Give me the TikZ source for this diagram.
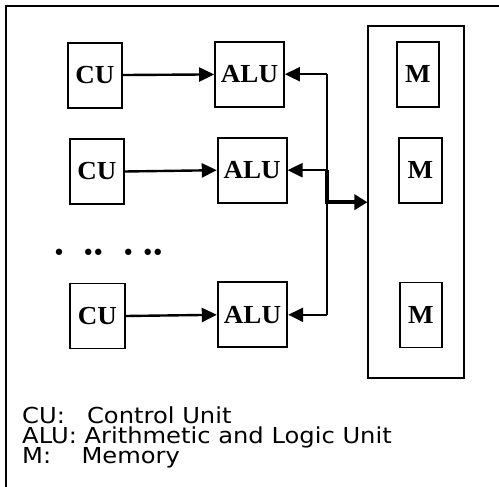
\documentclass[tikz,border=0pt]{standalone}
\usepackage{fontspec}
\usepackage{graphicx}
\setmainfont{Liberation Serif}
\newfontfamily\legendfont{DejaVu Sans}
\usetikzlibrary{arrows.meta}
\newcommand{\wide}[1]{\scalebox{1.04}[1]{#1}}
\newcommand{\widelegend}[1]{\scalebox{1.1}[1]{#1}}
\tikzset{
  unitbox/.style={draw, line width=1.8pt, inner sep=0pt, font=\bfseries\fontsize{26}{26}\selectfont},
  conn/.style={line width=2.4pt, -{Triangle[length=15pt,width=14pt]}},
  busline/.style={line width=2.4pt},
  membus/.style={line width=3.4pt, -{Triangle[length=13pt,width=15pt]}},
  legend/.style={anchor=base west, inner sep=0pt, font=\legendfont\fontsize{22}{22}\selectfont},
  frameline/.style={line width=2.2pt}
}
\begin{document}
\begin{tikzpicture}[x=1pt,y=-1pt]
\useasboundingbox (0,0) rectangle (499,487);
% outer frame (right and bottom edges lie outside the picture)
\coordinate (fbl) at (6,487);
\coordinate (ftl) at (6,6);
\coordinate (ftr) at (499,6);
\draw[frameline] (fbl) -- (ftl) -- (ftr);
% CU boxes
\node[unitbox, minimum width=54pt, minimum height=65pt] (cu1) at (95,75.2) {\wide{CU}};
\node[unitbox, minimum width=54pt, minimum height=65pt] (cu2) at (97,171.5) {\wide{CU}};
\node[unitbox, minimum width=55pt, minimum height=65pt] (cu3) at (97.5,316) {\wide{CU}};
% ALU boxes
\node[unitbox, minimum width=69pt, minimum height=65pt] (alu1) at (249.5,74.2) {\wide{ALU}};
\node[unitbox, minimum width=69pt, minimum height=65pt] (alu2) at (252.2,170.2) {\wide{ALU}};
\node[unitbox, minimum width=69.6pt, minimum height=65pt] (alu3) at (252.5,314.8) {\wide{ALU}};
% memory
\node[draw, line width=1.8pt, minimum width=95.7pt, minimum height=352.3pt, inner sep=0pt] (mem) at (416.2,202.2) {};
\node[unitbox, minimum width=42pt, minimum height=65pt] (m1) at (418,74.2) {\wide{M}};
\node[unitbox, minimum width=42.4pt, minimum height=65pt] (m2) at (420.5,170.2) {\wide{M}};
\node[unitbox, minimum width=42.6pt, minimum height=65pt] (m3) at (421,315) {\wide{M}};
% CU -> ALU
\draw[conn] (cu1) -- (alu1);
\draw[conn] (cu2.east) -- (alu2.west);
\draw[conn] (cu3.east) -- (alu3.west);
% bus
\coordinate (b1) at (327,74.2);
\coordinate (b2) at (327,170.2);
\coordinate (b3) at (327,314.8);
\draw[busline] (b1) -- (b3);
\draw[conn] (b1) -- (alu1.east);
\draw[conn] (b2) -- (alu2.east);
\draw[conn] (b3) -- (alu3.east);
\draw[membus] (b2) |- (mem.west);
% dots
\node[anchor=base west, inner sep=0pt, font=\legendfont\fontsize{22}{22}\selectfont] (dots) at (52.5,260.5)
  {•\hspace{16.3pt}•\hspace{-3pt}•\hspace{17pt}•\hspace{6.4pt}•\hspace{-3pt}•};
% legend
\node[legend] (l1) at (22,423.5) {\widelegend{\makebox[59pt][l]{CU:}Control Unit}};
\node[legend] (l2) at (22,443.5) {\widelegend{ALU: Arithmetic and Logic Unit}};
\node[legend] (l3) at (22,463.5) {\widelegend{\makebox[54pt][l]{M:}Memory}};
\end{tikzpicture}
\end{document}
